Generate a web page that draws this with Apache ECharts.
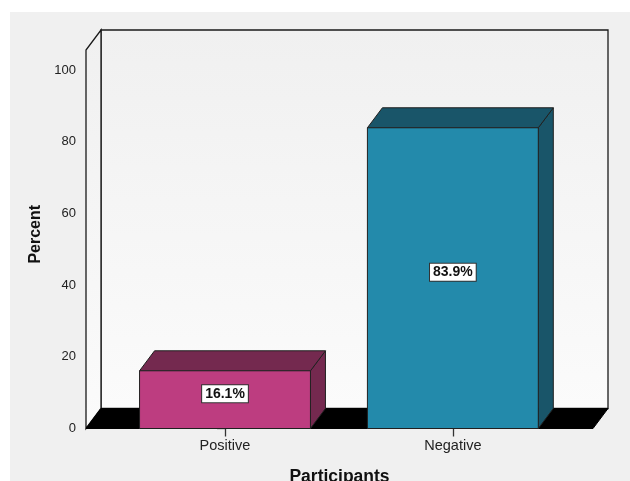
<!DOCTYPE html>
<html>
<head>
<meta charset="utf-8">
<script src="https://cdn.jsdelivr.net/npm/echarts@6/dist/echarts.min.js"></script>
<style>
  html, body { margin: 0; padding: 0; background: #ffffff; }
  #chart { width: 630px; height: 481px; }
</style>
</head>
<body>
<div id="chart"></div>
<script>
var categories = ['Positive', 'Negative'];
var percents = [16.1, 83.9];
var yTicks = [0, 20, 40, 60, 80, 100];
var xMin = -0.61, xMax = 1.615, yMax = 105.6;

// 3d look: depth offset in px, bar width in category units
var DX = 15, DY = 20, BAR_W = 0.75;
var barColors = [
    { front: '#bd3d80', top: '#74294f', side: '#74294f' },
    { front: '#238aab', top: '#195569', side: '#195569' }
];

var chart = echarts.init(document.getElementById('chart'));

function renderFrame(params, api) {
    var bl = api.coord([xMin, 0]);
    var br = api.coord([xMax, 0]);
    var tl = api.coord([xMin, yMax]);
    var tr = api.coord([xMax, yMax]);
    var edge = { stroke: '#1a1a1a', lineWidth: 1.3 };
    var wallFill = new echarts.graphic.LinearGradient(0, 0, 0, 1, [
        { offset: 0, color: '#f0f0f0' }, { offset: 1, color: '#fbfbfb' }
    ]);
    return {
        type: 'group',
        children: [
            { type: 'rect', shape: { x: tl[0] + DX, y: tl[1] - DY, width: tr[0] - tl[0], height: bl[1] - tl[1] },
              style: Object.assign({ fill: wallFill }, edge) },
            { type: 'polygon', shape: { points: [bl, tl, [tl[0] + DX, tl[1] - DY], [bl[0] + DX, bl[1] - DY]] },
              style: Object.assign({ fill: wallFill }, edge) },
            { type: 'polygon', shape: { points: [bl, br, [br[0] + DX, br[1] - DY], [bl[0] + DX, bl[1] - DY]] },
              style: { fill: '#000000', stroke: '#000000', lineWidth: 1 } }
        ]
    };
}

function renderBar(params, api) {
    var top = api.coord([api.value(0), api.value(1)]);
    var base = api.coord([api.value(0), 0]);
    var w = api.size([BAR_W, 0])[0];
    var x0 = top[0] - w / 2, x1 = top[0] + w / 2;
    var c = barColors[params.dataIndex];
    var edge = { stroke: '#202020', lineWidth: 1 };
    return {
        type: 'group',
        children: [
            { type: 'polygon', shape: { points: [[x1, top[1]], [x1 + DX, top[1] - DY], [x1 + DX, base[1] - DY], [x1, base[1]]] },
              style: Object.assign({ fill: c.side }, edge) },
            { type: 'polygon', shape: { points: [[x0, top[1]], [x0 + DX, top[1] - DY], [x1 + DX, top[1] - DY], [x1, top[1]]] },
              style: Object.assign({ fill: c.top }, edge) },
            { type: 'rect', shape: { x: x0, y: top[1], width: w, height: base[1] - top[1] },
              style: Object.assign({ fill: c.front }, edge) },
            { type: 'text', x: top[0], y: (top[1] + base[1]) / 2 - 6,
              style: {
                  text: api.value(1).toFixed(1) + '%',
                  fill: '#111', font: 'bold 14px "Liberation Sans", Arial, sans-serif',
                  align: 'center', verticalAlign: 'middle',
                  backgroundColor: '#ffffff', borderColor: '#333', borderWidth: 1,
                  padding: [2, 3, 1, 3]
              } }
        ]
    };
}

chart.setOption({
    backgroundColor: '#ffffff',
    animation: false,
    graphic: [{
        type: 'rect', left: 10, top: 12, z: -10,
        shape: { width: 620, height: 469 },
        style: { fill: '#f0f0f0' }
    }],
    grid: { left: 86, right: 37, top: 50, bottom: 52.5, outerBoundsMode: 'none', containLabel: false },
    xAxis: {
        type: 'value', min: xMin, max: xMax,
        name: 'Participants', nameLocation: 'middle', nameGap: 40,
        nameTextStyle: { color: '#111', fontSize: 17.5, fontWeight: 'bold', fontFamily: 'Liberation Sans' },
        axisLine: { show: false },
        splitLine: { show: false },
        axisTick: { show: true, customValues: [0, 1], length: 8, lineStyle: { color: '#333', width: 1.3 } },
        axisLabel: {
            customValues: [0, 1], margin: 10, color: '#222', fontSize: 14.5, fontFamily: 'Liberation Sans',
            formatter: function (v) { return categories[Math.round(v)]; }
        }
    },
    yAxis: {
        type: 'value', min: 0, max: yMax,
        name: 'Percent', nameLocation: 'middle', nameGap: 42,
        nameTextStyle: { color: '#111', fontSize: 16, fontWeight: 'bold', fontFamily: 'Liberation Sans', padding: [0, 0, 0, 10] },
        axisLine: { show: true, lineStyle: { color: '#1a1a1a', width: 1.3 } },
        splitLine: { show: false },
        axisTick: { show: true, customValues: yTicks, length: 8, lineStyle: { color: '#222', width: 1.3 } },
        axisLabel: { customValues: yTicks, margin: 10, color: '#222', fontSize: 13, fontFamily: 'Liberation Sans' }
    },
    series: [
        { type: 'custom', renderItem: renderFrame, data: [[0, 0]], z: 1, silent: true },
        { type: 'custom', renderItem: renderBar, data: percents.map(function (v, i) { return [i, v]; }), z: 2 }
    ]
});
</script>
</body>
</html>
